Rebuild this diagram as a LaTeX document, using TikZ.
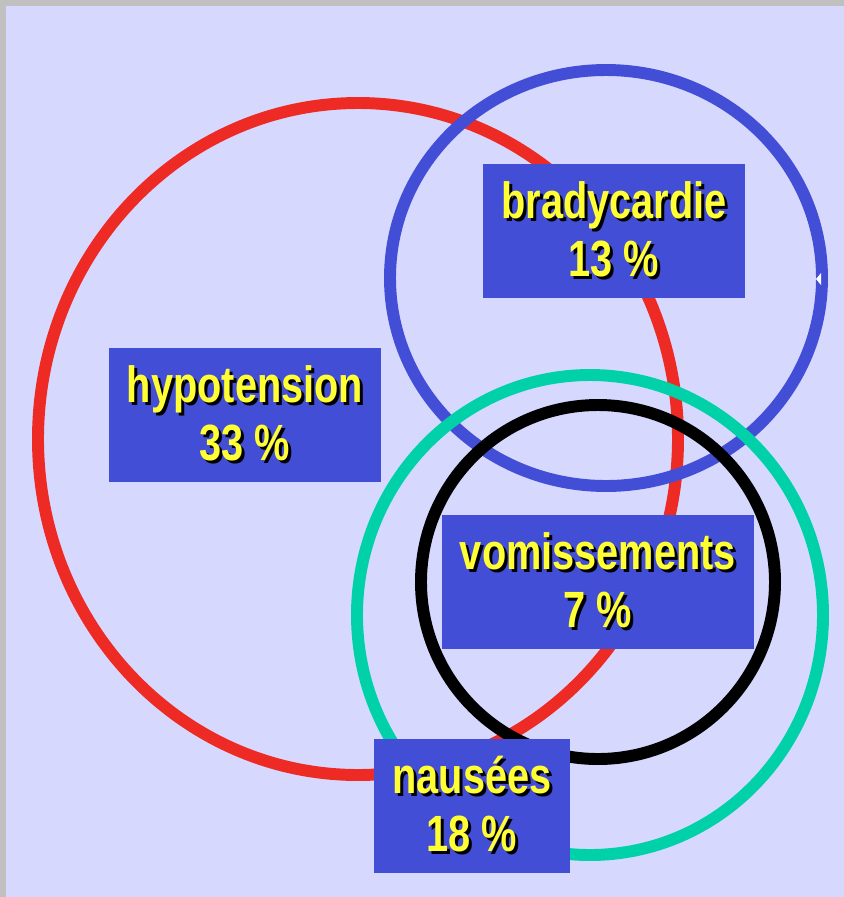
\documentclass[tikz,border=0pt]{standalone}
\usepackage{fontspec}
\setmainfont[FakeStretch=0.78]{Liberation Sans}
\usepackage{tikz}

\definecolor{fond}{HTML}{D6D8FE}
\definecolor{cadre}{HTML}{C0C0C0}
\definecolor{rouge}{HTML}{EE2A24}
\definecolor{bleu}{HTML}{434ED6}
\definecolor{vert}{HTML}{00D1A8}
\definecolor{jaune}{HTML}{FFFF33}

% texte jaune avec ombre noire
\newcommand{\ombre}[1]{\makebox[0pt][l]{\hspace{1.7pt}\raisebox{-1.7pt}{\color{black}#1}}#1}

\begin{document}
\begin{tikzpicture}[
                x=0.02cm, y=-0.02cm,          % 1 unite = 1 pixel
                cercle/.style={line width=6.8pt},
                etiquette/.style={
                    rectangle,
                    fill=bleu,
                    text=jaune,
                    minimum height=2.7cm,
                    inner sep=0pt,
                    align=center,
                    font=\bfseries\fontsize{29}{33}\selectfont
                }
            ]
                % fond
                \fill[cadre] (0,0) rectangle (844,897);
                \fill[fond] (6,6) rectangle (844,897);
                \useasboundingbox (0,0) rectangle (844,897);

                % cercles
                \draw[cercle, rouge] (358,439) ellipse [x radius=320, y radius=336];
                \draw[cercle, bleu] (606,278) ellipse [x radius=216, y radius=208];
                \fill[white] (816,279) -- (821,273) -- (821,285) -- cycle;
                \draw[cercle, vert] (590,615) ellipse [x radius=233, y radius=240];
                \draw[cercle, black] (598,582) ellipse [x radius=177, y radius=177];

                % etiquettes
                \node[etiquette, minimum width=5.24cm] (brady) at (614,231) {\ombre{bradycardie}\\ \ombre{13 \%}};
                \node[etiquette, minimum width=5.46cm] (hypo) at (245,415) {\ombre{hypotension}\\ \ombre{33 \%}};
                \node[etiquette, minimum width=6.24cm] (vomi) at (598,582) {\ombre{vomissements}\\ \ombre{7 \%}};
                \node[etiquette, minimum width=3.94cm] (nausee) at (472,806) {\ombre{nausées}\\ \ombre{18 \%}};
            \end{tikzpicture}
\end{document}
